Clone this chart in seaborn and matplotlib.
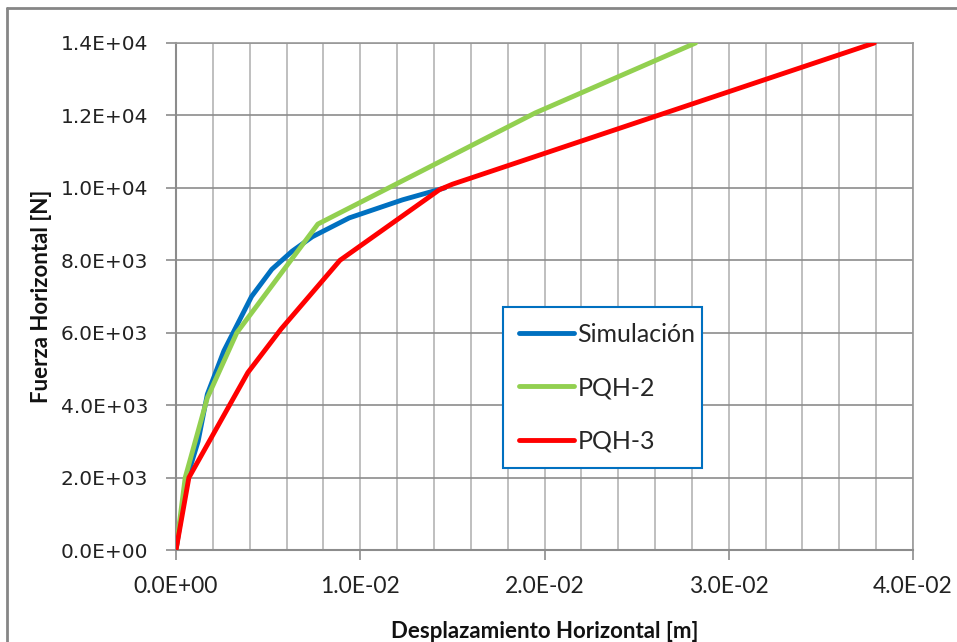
import matplotlib
matplotlib.use('Agg')
import matplotlib.pyplot as plt
import matplotlib.ticker as mticker
import seaborn as sns
import pandas as pd
from matplotlib.lines import Line2D

sns.set_theme(style='white')
plt.rcParams['font.family'] = ['Lato', 'DejaVu Sans']

# ── data ─────────────────────────────────────────────────────────────────────
sim_x = [0.0, 0.0006, 0.0012, 0.0017, 0.0026, 0.0032, 0.0041, 0.0052, 0.0063, 0.0074, 0.0094, 0.0123, 0.0146]
sim_y = [0, 2000, 3000, 4300, 5500, 6100, 7000, 7750, 8250, 8650, 9170, 9670, 10000]

pqh2_x = [0.0, 0.0005, 0.0017, 0.0033, 0.0077, 0.0195, 0.0282]
pqh2_y = [0, 2000, 4200, 6000, 9000, 12070, 14000]

pqh3_x = [0.0, 0.0007, 0.0039, 0.0057, 0.0089, 0.0143, 0.0150, 0.0379]
pqh3_y = [0, 2000, 4900, 6100, 8000, 9950, 10100, 14000]

names = ['Simulación', 'PQH-2', 'PQH-3']
colors = ['#0070C0', '#92D050', '#FF0000']

df = pd.concat([
    pd.DataFrame({'x': sim_x, 'y': sim_y, 'serie': names[0]}),
    pd.DataFrame({'x': pqh2_x, 'y': pqh2_y, 'serie': names[1]}),
    pd.DataFrame({'x': pqh3_x, 'y': pqh3_y, 'serie': names[2]}),
], ignore_index=True)

fig = plt.figure(figsize=(9.57, 6.42), dpi=100)
ax = fig.add_axes([176/957, 92/642, 737/957, 507/642])

sns.lineplot(data=df, x='x', y='y', hue='serie', palette=colors, sort=False,
             estimator=None, linewidth=3.5, ax=ax, legend=False, zorder=3)

ax.set_xlim(0, 0.04)
ax.set_ylim(0, 14000)
ax.xaxis.set_major_locator(mticker.MultipleLocator(0.01))
ax.xaxis.set_minor_locator(mticker.MultipleLocator(0.002))
ax.yaxis.set_major_locator(mticker.MultipleLocator(2000))
ax.xaxis.set_major_formatter(mticker.FuncFormatter(lambda v, p: f'{v:.1E}'))
ax.yaxis.set_major_formatter(mticker.FuncFormatter(lambda v, p: f'{v:.1E}'))

ax.grid(True, which='major', axis='y', color='#8c8c8c', linewidth=1.2)
ax.grid(True, which='both', axis='x', color='#b4b4b4', linewidth=1.2)
ax.set_axisbelow(True)

for s in ['left', 'bottom']:
    ax.spines[s].set_color('#8c8c8c'); ax.spines[s].set_linewidth(1.5)
for s in ['top', 'right']:
    ax.spines[s].set_color('#9a9a9a'); ax.spines[s].set_linewidth(1.2)

ax.tick_params(axis='both', which='major', direction='out', length=7, width=1.2,
               color='#8c8c8c', bottom=True, left=True)
ax.tick_params(axis='x', which='minor', length=0)
ax.tick_params(axis='y', pad=13)
ax.tick_params(axis='x', pad=12)
for lab in ax.get_yticklabels():
    lab.set_fontfamily('DejaVu Sans'); lab.set_fontsize(14.5); lab.set_color('#222222')
for lab in ax.get_xticklabels():
    lab.set_fontsize(16.5); lab.set_color('#222222')

ax.set_xlabel('Desplazamiento Horizontal [m]', fontsize=16, fontweight='bold', labelpad=17, color='#111111')
ax.set_ylabel('Fuerza Horizontal [N]', fontsize=16, fontweight='bold', labelpad=6, color='#111111')

handles = [Line2D([0], [0], color=c, lw=3.5) for c in colors]
leg = ax.legend(handles, names, loc='upper left', bbox_to_anchor=(0.444, 0.162, 0.27, 0.317),
                mode='expand', borderaxespad=0, fontsize=18, handlelength=2.2, labelspacing=1.22,
                handletextpad=0.15, borderpad=0.62, fancybox=False, framealpha=1)
leg.get_frame().set_edgecolor('#0070C0')
leg.get_frame().set_linewidth(1.5)

# outer chart border (left and top visible in reference)
fig.add_artist(Line2D([7/957, 7/957], [0, 1 - 8/642], transform=fig.transFigure, color='#868686', lw=2))
fig.add_artist(Line2D([7/957, 1], [1 - 8/642, 1 - 8/642], transform=fig.transFigure, color='#868686', lw=2))

fig.savefig('out.png', dpi=100)
